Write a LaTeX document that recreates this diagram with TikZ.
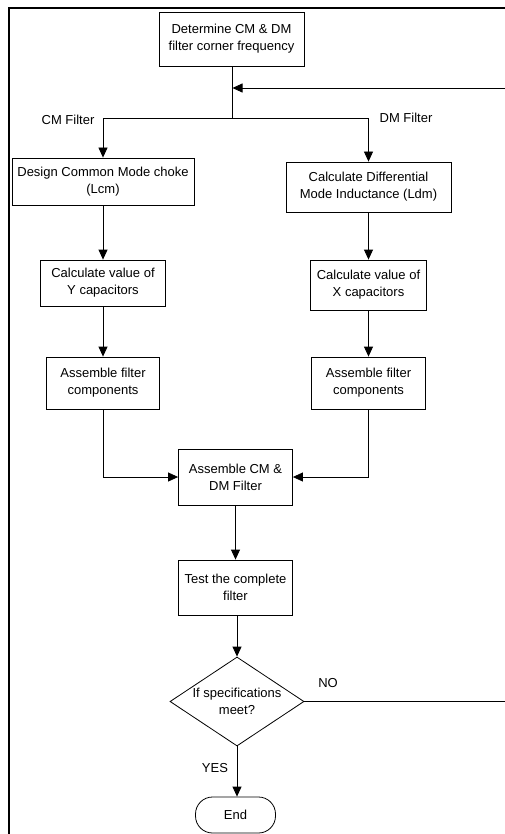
\documentclass[tikz,border=0pt]{standalone}
\usepackage{fontspec}
\setmainfont{Liberation Sans}
\usepackage{tikz}
\usetikzlibrary{arrows.meta,shapes.geometric}

\begin{document}
\begin{tikzpicture}[x=1pt,y=-1pt,
    proc_node/.style={rectangle,draw,thick,align=center,inner sep=0,font=\fontsize{13}{17}\selectfont},
    dec_node/.style={diamond,draw,thick,inner sep=0,minimum width=134pt,minimum height=89pt},
    end_node/.style={rectangle,draw,thick,rounded corners=17pt,inner sep=0,minimum width=80pt,minimum height=36pt,font=\fontsize{13}{17}\selectfont},
    lbl/.style={inner sep=0,font=\fontsize{13}{17}\selectfont},
    arr/.style={-{Triangle[length=10pt,width=9pt]}}]
    \useasboundingbox (0,0) rectangle (505,834);
    % frame
    \draw[line width=2pt] (8.5,834) -- (8.5,8.3) -- (505,8.3);
    \node[proc_node, minimum width=145pt, minimum height=54pt] (1) at (231.5,39) {Determine CM \& DM\\filter corner frequency};
    \node[proc_node, minimum width=182pt, minimum height=47pt] (2) at (103,181.5) {Design Common Mode choke\\(Lcm)};
    \node[proc_node, minimum width=165pt, minimum height=50pt] (3) at (368.5,187) {Calculate Differential\\Mode Inductance (Ldm)};
    \node[proc_node, minimum width=125pt, minimum height=46pt] (4) at (103,283) {Calculate value of\\Y capacitors};
    \node[proc_node, minimum width=116pt, minimum height=50pt] (5) at (368.5,285) {Calculate value of\\X capacitors};
    \node[proc_node, minimum width=113pt, minimum height=52pt] (6) at (103,383) {Assemble filter\\components};
    \node[proc_node, minimum width=114pt, minimum height=52pt] (7) at (368.5,383) {Assemble filter\\components};
    \node[proc_node, minimum width=114pt, minimum height=56pt] (8) at (235.5,477) {Assemble CM \&\\DM Filter};
    \node[proc_node, minimum width=114pt, minimum height=55pt] (9) at (235.5,587.5) {Test the complete\\filter};
    \node[dec_node, label={[lbl,align=center]center:{If specifications\\meet?}}] (10) at (237,701.5) {};
    \node[end_node] (11) at (235.5,815) {End};
    \coordinate (j) at (232.5,118);
    \coordinate (r1) at (505,701.5);
    \coordinate (r2) at (505,88);
    \node[lbl] (cm) at (68,120) {CM Filter};
    \node[lbl] (dm) at (406,118) {DM Filter};
    \node[lbl] (no) at (328,683) {NO};
    \node[lbl] (yes) at (215,768) {YES};
    \draw[thick] (1.south -| j) -- (j);
    \draw[thick,arr] (r2) -- (j |- r2);
    \draw[thick,arr] (j) -| (2.north);
    \draw[thick,arr] (j) -| (3.north);
    \draw[thick,arr] (2) -- (4);
    \draw[thick,arr] (4) -- (6);
    \draw[thick,arr] (3) -- (5);
    \draw[thick,arr] (5) -- (7);
    \draw[thick,arr] (6.south) |- (8.west);
    \draw[thick,arr] (7.south) |- (8.east);
    \draw[thick,arr] (8) -- (9);
    \draw[thick,arr] (9.south -| 10.north) -- (10.north);
    \draw[thick,arr] (10.south) -- (11.north -| 10.south);
    \draw[thick] (10.east) -- (r1);
\end{tikzpicture}
\end{document}
